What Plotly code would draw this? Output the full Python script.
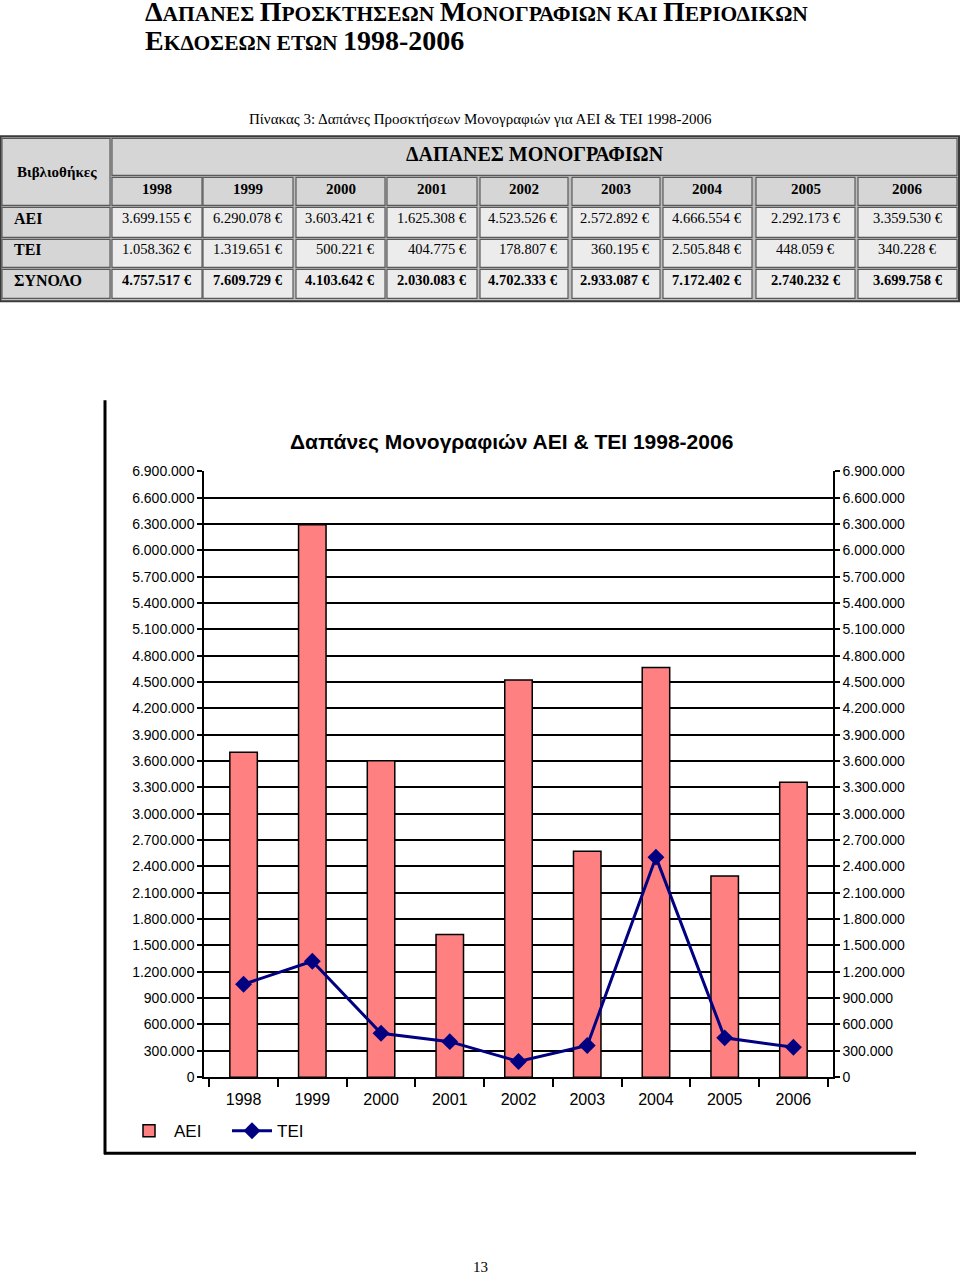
import plotly.graph_objects as go

years = ["1998", "1999", "2000", "2001", "2002", "2003", "2004", "2005", "2006"]
aei = [3699155, 6290078, 3603421, 1625308, 4523526, 2572892, 4666554, 2292173, 3359530]
tei = [1058362, 1319651, 500221, 404775, 178807, 360195, 2505848, 448059, 340228]
total = [4757517, 7609729, 4103642, 2030083, 4702333, 2933087, 7172402, 2740232, 3699758]
row_labels = ["ΑΕΙ", "ΤΕΙ", "ΣΥΝΟΛΟ"]
series_names = ["ΑΕΙ", "ΤΕΙ"]

W, H = 960, 1280
SERIF = "Liberation Serif, Times New Roman, serif"
SANS = "Liberation Sans, Arial, sans-serif"
# the photographed page shows a small vertical offset/scale; compensate for it
V_OFF, V_SCALE = 7.6, 0.9877


def px(x):
    return x / W


def py(y):
    return 1 - ((y - V_OFF) / V_SCALE) / H


def fmt_eur(v):
    return f"{v:,}".replace(",", ".") + " €"


fig = go.Figure()
fig.add_trace(go.Bar(
    x=years, y=aei, name=series_names[0], width=0.4,
    marker=dict(color="#FF8080", line=dict(color="black", width=1.5)),
    yaxis="y",
))
fig.add_trace(go.Scatter(
    x=years, y=tei, name=series_names[1], mode="lines+markers",
    line=dict(color="#000080", width=3),
    marker=dict(symbol="diamond", size=13, color="#000080"),
    yaxis="y2",
))

shapes = []
annotations = []


def note(x, y, text, size, family=SERIF, xanchor="center", align="center"):
    annotations.append(dict(x=px(x), y=py(y), xref="paper", yref="paper",
                            text=text, showarrow=False, xanchor=xanchor, yanchor="middle",
                            align=align,
                            font=dict(family=family, size=size, color="black")))


# ---- Table ----
col_edges = [(2, 110), (112, 202), (203, 293), (296, 385), (387, 477),
             (480, 568), (572, 660), (663, 752), (756, 855), (858, 957)]
row_edges = [(138, 175), (177, 205), (207, 237), (239, 267), (269, 298)]

shapes.append(dict(type="rect", xref="paper", yref="paper",
                   x0=px(0.5), x1=px(959), y0=py(301), y1=py(136),
                   fillcolor="#bdbdbd", line=dict(color="#3a3a3a", width=2)))


def cell(x0, x1, y0, y1, fill):
    shapes.append(dict(type="rect", xref="paper", yref="paper",
                       x0=px(x0), x1=px(x1), y0=py(y1), y1=py(y0),
                       fillcolor=fill, line=dict(color="#5a5a5a", width=1.2)))


HEAD = "#d6d6d6"
DATA = "#ececec"
cell(col_edges[0][0], col_edges[0][1], row_edges[0][0], row_edges[1][1], HEAD)
cell(col_edges[1][0], col_edges[-1][1], row_edges[0][0], row_edges[0][1], HEAD)
for (c0, c1) in col_edges[1:]:
    cell(c0, c1, row_edges[1][0], row_edges[1][1], HEAD)
for r in range(3):
    r0, r1 = row_edges[2 + r]
    cell(col_edges[0][0], col_edges[0][1], r0, r1, HEAD)
    for (c0, c1) in col_edges[1:]:
        cell(c0, c1, r0, r1, DATA)

note(57, 172, "<b>Βιβλιοθήκες</b>", 15)
note(535, 154, "<b>ΔΑΠΑΝΕΣ ΜΟΝΟΓΡΑΦΙΩΝ</b>", 20)
for i, yr in enumerate(years):
    c0, c1 = col_edges[i + 1]
    note((c0 + c1) / 2, 189, f"<b>{yr}</b>", 15)

rows = [aei, tei, total]
row_y = [218, 249, 280]
for r, (lab, vals) in enumerate(zip(row_labels, rows)):
    note(12, row_y[r], f"<b>{lab}</b>", 16, xanchor="left")
    for i, v in enumerate(vals):
        c0, c1 = col_edges[i + 1]
        t = fmt_eur(v)
        if r == 2:
            t = f"<b>{t}</b>"
        if i < 7:
            note(c1 - 8, row_y[r], t, 14.5, xanchor="right")
        else:
            note((c0 + c1) / 2, row_y[r], t, 14.5)

# ---- Titles ----
B, S = 28, 22


def big(t):
    return f"<span style='font-size:{B}px'>{t}</span>"


def small(t):
    return f"<span style='font-size:21.5px'>{t}</span>"


line1 = (big("Δ") + small("ΑΠΑΝΕΣ ") + big("Π") + small("ΡΟΣΚΤΗΣΕΩΝ ") + big("Μ")
         + small("ΟΝΟΓΡΑΦΙΩΝ ΚΑΙ ") + big("Π") + small("ΕΡΙΟΔΙΚΩΝ"))
line2 = big("Ε") + small("ΚΔΟΣΕΩΝ ΕΤΩΝ ") + big("1998-2006")
note(143, 26, f"<b>{line1}</b><br><b>{line2}</b>", S, xanchor="left", align="left")
note(480, 119, "Πίνακας 3: Δαπάνες Προσκτήσεων Μονογραφιών για ΑΕΙ & ΤΕΙ 1998-2006", 15)
note(511, 442, "<b>Δαπάνες Μονογραφιών ΑΕΙ & ΤΕΙ 1998-2006</b>", 21, family=SANS)
note(480, 1267, "13", 15)

# chart frame (left and bottom)
shapes.append(dict(type="line", xref="paper", yref="paper",
                   x0=px(105), x1=px(105), y0=py(400), y1=py(1154),
                   line=dict(color="black", width=3)))
shapes.append(dict(type="line", xref="paper", yref="paper",
                   x0=px(104), x1=px(916), y0=py(1153), y1=py(1153),
                   line=dict(color="black", width=3)))

ydom = [py(1077), py(471)]
yaxis_common = dict(
    range=[0, 6900000], dtick=300000, tick0=0, tickformat=",d",
    showgrid=True, gridcolor="black", gridwidth=1.5,
    ticks="outside", ticklen=5, tickcolor="black", tickwidth=1.5,
    showline=True, linecolor="black", linewidth=1.5,
    tickfont=dict(family=SANS, size=14, color="black"),
    zeroline=False, domain=ydom, fixedrange=True,
)

fig.update_layout(
    width=W, height=H,
    margin=dict(l=0, r=0, t=0, b=0),
    paper_bgcolor="white", plot_bgcolor="white",
    separators=",.",
    showlegend=True,
    legend=dict(orientation="h", x=px(124), y=py(1131), xanchor="left", yanchor="middle",
                font=dict(family=SANS, size=17, color="black"),
                bgcolor="rgba(0,0,0,0)", itemwidth=40, entrywidth=48,
                traceorder="normal"),
    xaxis=dict(
        type="category", domain=[px(204), px(833)],
        showline=True, linecolor="black", linewidth=2,
        ticks="outside", ticklen=8, tickcolor="black", tickwidth=1.5,
        tickson="boundaries", showgrid=False,
        tickfont=dict(family=SANS, size=16, color="black"),
        ticklabelstandoff=7, fixedrange=True,
    ),
    yaxis=dict(side="left", **yaxis_common),
    yaxis2=dict(side="right", overlaying="y", anchor="x", **yaxis_common),
    shapes=shapes,
    annotations=annotations,
)
fig.update_layout(yaxis2=dict(showgrid=False))

fig.write_html(
    "out.html",
    config={"displayModeBar": False},
    post_script=("document.documentElement.style.margin='0';"
                 "document.body.style.margin='0';document.body.style.padding='0';"
                 "document.body.style.overflow='hidden';"),
)
